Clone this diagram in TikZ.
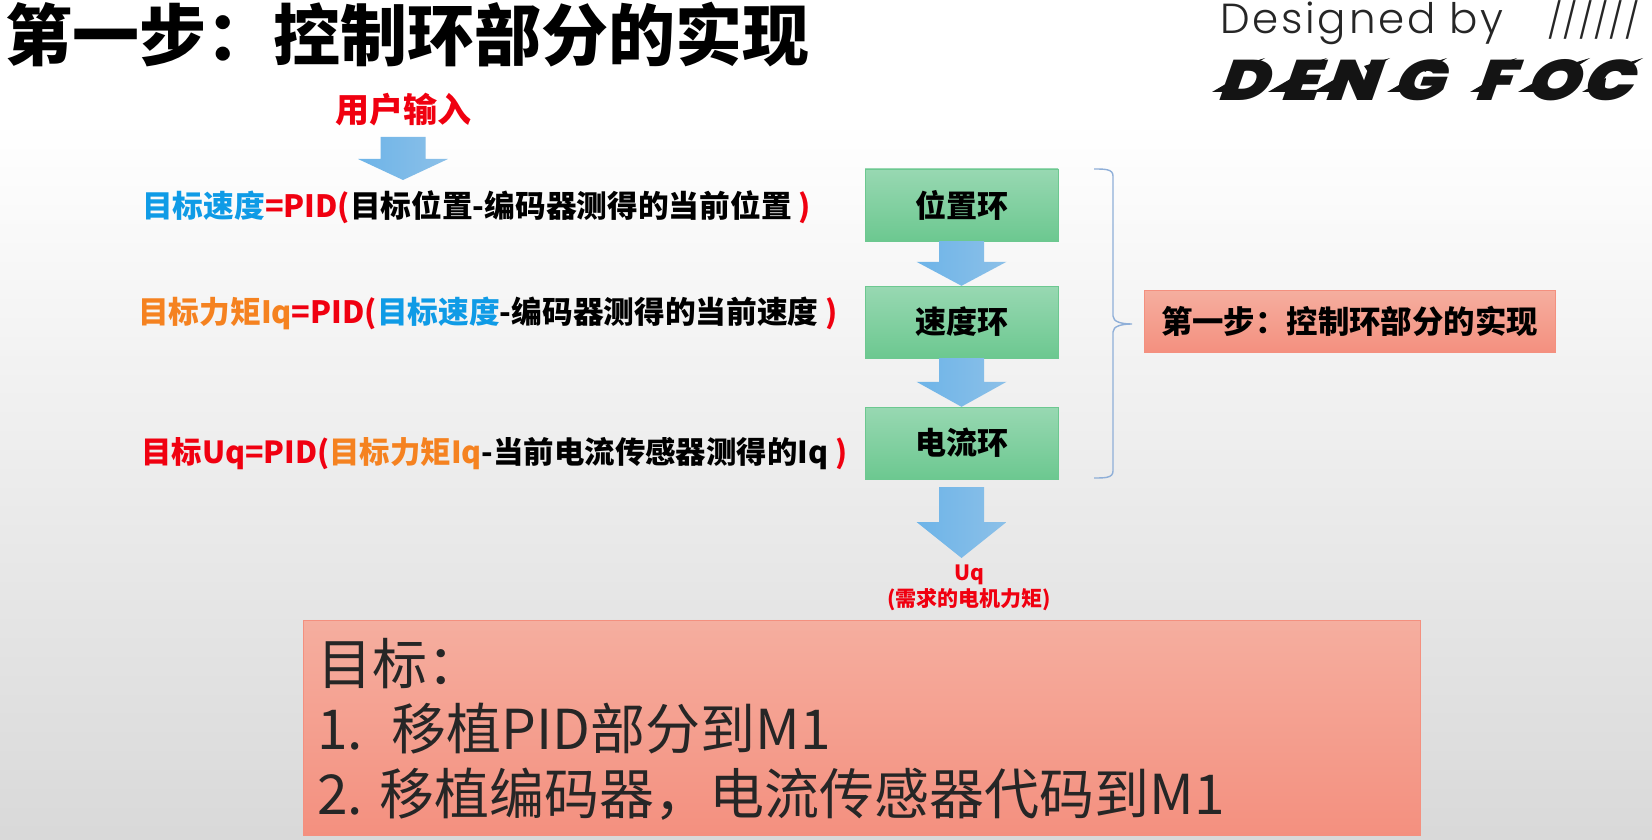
\documentclass[tikz,border=0pt]{standalone}
\usepackage{fontspec}
\setmainfont{Noto Sans CJK SC}
\newfontfamily\thinlogo{Poppins Light}
\newfontfamily\heavylogo{Poppins Black}[FakeSlant=0.35,FakeStretch=1.18]
\usetikzlibrary{arrows.meta,calc,positioning}
\definecolor{textblue}{HTML}{0F9BE6}
\definecolor{textred}{HTML}{F00010}
\definecolor{textorange}{HTML}{F58220}
\definecolor{bracecol}{HTML}{8FAFD8}
\definecolor{looptop}{HTML}{98D8B2}
\definecolor{loopbot}{HTML}{6CC890}
\definecolor{pinktop}{HTML}{F5AE9F}
\definecolor{pinkbot}{HTML}{F4907F}
\definecolor{arrowleft}{HTML}{6DB4E8}
\definecolor{arrowright}{HTML}{8CC0E8}
\tikzset{
  pagebg/.style={top color=white,bottom color=black!15},              % slide background
  titletxt/.style={inner sep=0pt,anchor=west,font=\fontsize{67}{76}\selectfont\bfseries},
  formula/.style={inner sep=0pt,anchor=west,font=\fontsize{30.7}{36}\selectfont\bfseries},
  looptxt/.style={font=\fontsize{31}{36}\selectfont\bfseries},
  loopbox/.style={draw=loopbot,top color=looptop,bottom color=loopbot,minimum width=193pt,minimum height=72pt,inner sep=0pt,looptxt},
  stepbox/.style={draw=pinkbot,top color=pinktop,bottom color=pinkbot,minimum width=411pt,minimum height=62pt,inner sep=0pt,font=\fontsize{31.4}{38}\selectfont\bfseries},
  goalbox/.style={draw=pinkbot,top color=pinktop,bottom color=pinkbot,minimum width=1117pt,minimum height=215pt,inner sep=0pt},
  goaltxt/.style={inner sep=0pt,anchor=west,text=black!85,font=\fontsize{55}{62}\selectfont},
  flowarrow/.style={left color=arrowleft,right color=arrowright},
  bracket/.style={draw=bracecol,line width=1.4pt},
  logoletter/.style={inner sep=0pt,text=black!92,font=\fontsize{57}{64}\heavylogo\selectfont},
}
\newcommand{\blockarrow}[3]{% top, tip, head length
  \shade[flowarrow] ($(#1)+(-22.5,0)$) -- ($(#1)+(22.5,0)$) -- ($(#2)+(22.5,-#3)$) -- ($(#2)+(45,-#3)$)
    -- (#2) -- ($(#2)+(-45,-#3)$) -- ($(#2)+(-22.5,-#3)$) -- cycle;
}
\newcommand{\tb}[1]{\textcolor{textblue}{#1}}
\newcommand{\tr}[1]{\textcolor{textred}{#1}}
\newcommand{\tor}[1]{\textcolor{textorange}{#1}}
\begin{document}
\begin{tikzpicture}[x=1pt,y=-1pt]
  \useasboundingbox (0,0) rectangle (1652,840);
  \shade[pagebg] (0,120) rectangle (1652,840);
  % title and logo
  \node[titletxt] (title) at (5,35) {第一步：控制环部分的实现};
  \node[inner sep=0pt,anchor=west,text=black!85] (designed) at (1220,23) {\fontsize{42}{46}\thinlogo\addfontfeatures{LetterSpace=6.5}\selectfont Designed by};
  \node[inner sep=0pt,anchor=west,text=black!85] (marks) at (1547,20) {\fontsize{35}{46}\thinlogo\selectfont //////};
  \foreach \ltr/\midx/\tipx/\lowx in {D/1241/1265/1212,E/1298/1327/1268,N/1350/1390/1313,G/1417/1447/1387,F/1493/1517/1470,O/1551/1590/1518,C/1606/1643/1582} {
    \node[logoletter] (logo\ltr) at (\midx,80) {\ltr};
    \fill[black!92] (\tipx,58) -- (\tipx-22,72) -- (\tipx-26,66) -- cycle;
    \fill[black!92] (\lowx,92) -- (\lowx+24,78) -- (\lowx+22,92) -- cycle;
  }
  % input and formulas
  \node[inner sep=0pt,text=textred,font=\fontsize{34}{40}\selectfont\bfseries] (input) at (403,110) {用户输入};
  \coordinate (intop) at (403,137);
  \coordinate (intip) at (403,180);
  \blockarrow{intop}{intip}{21}
  \node[formula] (eqvel) at (142,207) {\tb{目标速度}\tr{=PID(}目标位置-编码器测得的当前位置\tr{~)}};
  \node[formula] (eqcur) at (138,313) {\tor{目标力矩Iq}\tr{=PID(}\tb{目标速度}-编码器测得的当前速度\tr{~)}};
  \node[formula,font=\fontsize{30.4}{36}\selectfont\bfseries] (equq) at (141,454) {\tr{目标Uq=PID(}\tor{目标力矩Iq}-当前电流传感器测得的Iq\tr{~)}};
  % loops
  \node[loopbox] (posloop) at (961.5,205) {位置环};
  \node[loopbox] (velloop) at (961.5,322) {速度环};
  \node[loopbox] (curloop) at (961.5,443) {电流环};
  \blockarrow{posloop.south}{velloop.north}{24}
  \blockarrow{velloop.south}{curloop.north}{25}
  \coordinate (outtop) at (961.5,487);
  \coordinate (outtip) at (961.5,558);
  \blockarrow{outtop}{outtip}{36}
  \node[inner sep=0pt,text=textred,align=center,font=\fontsize{21}{26}\selectfont\bfseries] (uq) at (969,588) {Uq\\(需求的电机力矩)};
  % brace and summary
  \node[stepbox] (step) at (1349.5,321) {第一步：控制环部分的实现};
  \draw[bracket] (1094,169) .. controls (1105,169) and (1113,169) .. (1113,176)
    -- (1113,316) .. controls (1113,322) and (1122,324) .. (1132,324)
    .. controls (1122,324) and (1113,326) .. (1113,332)
    -- (1113,471) .. controls (1113,478) and (1105,478) .. (1094,478);
  % goals
  \node[goalbox] (goal) at (861.5,727.5) {};
  \node[goaltxt] (goala) at (317,664) {目标：};
  \node[goaltxt] (goalb) at (317,729) {1. ~移植PID部分到M1};
  \node[goaltxt] (goalc) at (317,794) {2. 移植编码器，电流传感器代码到M1};
\end{tikzpicture}
\end{document}
